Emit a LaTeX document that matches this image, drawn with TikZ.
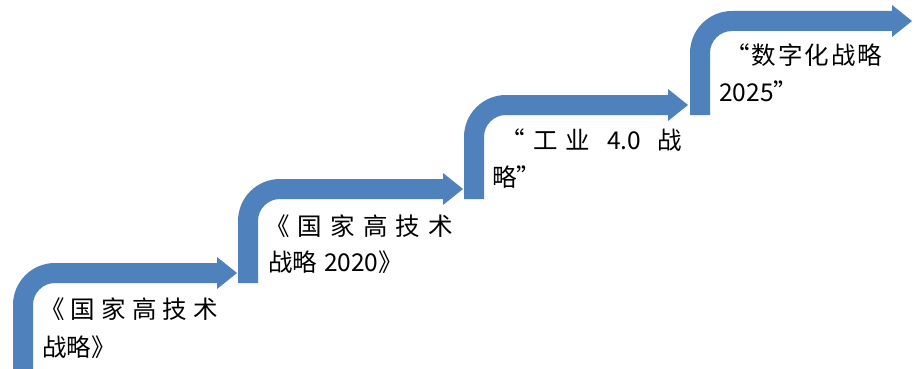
\documentclass[tikz,border=0pt]{standalone}
\usepackage{fontspec}
\newfontfamily\cjk{Noto Sans CJK SC}
\definecolor{stepblue}{RGB}{79,129,189}
% #1 = left x of riser, #2 = top y of tread, #3 = bottom y of riser, #4 = tip x
\newcommand\bentstep[4]{%
  \fill[stepblue] (#1,#3) -- (#1,#2+42)
    .. controls (#1,#2+18.8) and (#1+18.8,#2) .. (#1+42,#2)
    -- (#4-20,#2) -- (#4-20,#2-6) -- (#4,#2+10) -- (#4-20,#2+26) -- (#4-20,#2+20)
    -- (#1+42,#2+20)
    .. controls (#1+29.85,#2+20) and (#1+20,#2+29.85) .. (#1+20,#2+42)
    -- (#1+20,#3) -- cycle;}
\begin{document}
\begin{tikzpicture}[x=1pt,y=-1pt,
  txt/.style={anchor=west,inner sep=0pt,text height=0.8em,text depth=0.2em,
    font=\cjk\fontsize{24.5}{24.5}\selectfont,text=black}]
\useasboundingbox[fill=white] (0,0) rectangle (915,369);
\bentstep{13}{263}{369}{237}
\bentstep{238}{179}{283}{463}
\bentstep{464}{95}{199}{688}
\bentstep{690}{11}{115}{912}
% step 1
\node[txt] (s1a) at (40,315) {\makebox[178pt][l]{《\hfill 国\hfill 家\hfill 高\hfill 技\hfill 术}};
\node[txt] (s1b) at (42,353) {战略》};
% step 2
\node[txt] (s2a) at (265,232) {\makebox[188pt][l]{《\hfill 国\hfill 家\hfill 高\hfill 技\hfill 术}};
\node[txt] (s2b) at (268,268) {战略\hspace{7pt}2020》};
% step 3
\node[txt] (s3a) at (500,146) {\makebox[182pt][l]{“\hfill 工\hfill 业\hfill\hfill 4.0\hfill\hfill 战}};
\node[txt] (s3b) at (492,183) {略”};
% step 4
\node[txt] (s4a) at (725,62) {\makebox[157pt][l]{“\hfill 数\hfill 字\hfill 化\hfill 战\hfill 略}};
\node[txt] (s4b) at (719,98) {2025”};
\end{tikzpicture}
\end{document}
